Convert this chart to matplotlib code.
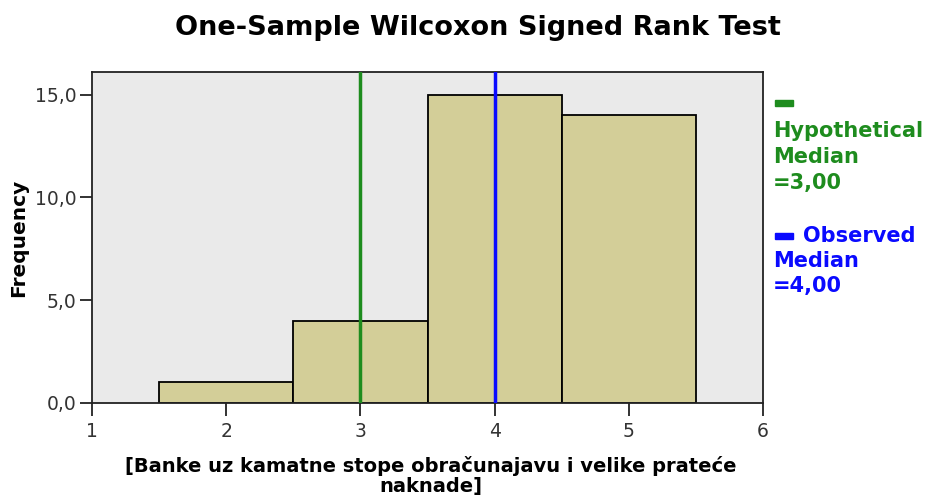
import matplotlib
matplotlib.use("Agg")
import matplotlib.pyplot as plt
from matplotlib.patches import Rectangle

bin_edges = [1.5, 2.5, 3.5, 4.5, 5.5]
frequencies = [1, 4, 15, 14]
hypothetical_median = 3.0
observed_median = 4.0
x_ticks = [1, 2, 3, 4, 5, 6]
y_ticks = [0, 5, 10, 15]
y_tick_labels = ["0,0", "5,0", "10,0", "15,0"]

GREEN = "#1E8C1E"
BLUE = "#0A0AFF"
W, H = 932, 496

plt.rcParams['font.family'] = ['DejaVu Sans']

fig = plt.figure(figsize=(W / 100, H / 100), dpi=100)
ax = fig.add_axes([92 / W, 1 - 403 / H, (763 - 92) / W, (403 - 72) / H])
ax.set_facecolor("#EAEAEA")

lefts = bin_edges[:-1]
widths = [bin_edges[i + 1] - bin_edges[i] for i in range(len(lefts))]
ax.bar(lefts, frequencies, width=widths, align="edge", color="#D3CE98",
       edgecolor="black", linewidth=1.3, zorder=2)

ax.axvline(hypothetical_median, color=GREEN, linewidth=2.5, zorder=3)
ax.axvline(observed_median, color=BLUE, linewidth=2.5, zorder=3)

ax.set_xlim(1, 6)
ax.set_ylim(0, 16.1)
ax.set_xticks(x_ticks)
ax.set_xticklabels([str(t) for t in x_ticks])
ax.set_yticks(y_ticks)
ax.set_yticklabels(y_tick_labels)
ax.tick_params(axis="both", direction="out", length=9, width=1.3,
               labelsize=13.5, colors="#222222", labelcolor="#333333")
ax.tick_params(axis="x", pad=5)
ax.tick_params(axis="y", pad=2)
for s in ax.spines.values():
    s.set_linewidth(1.3)
    s.set_color("#222222")

ax.set_ylabel("Frequency", fontsize=14.5, fontweight="bold")
ax.yaxis.set_label_coords(-64 / 671, 0.5)

fig.text(431 / W, 1 - 476 / H,
         "[Banke uz kamatne stope obračunajavu i velike prateće\nnaknade]",
         ha="center", va="center", fontsize=14, fontweight="bold", linespacing=1.1)

fig.text(478 / W, 1 - 28 / H, "One-Sample Wilcoxon Signed Rank Test", ha="center",
         va="center", fontsize=19.5, fontweight="bold")

# legend-like annotation on the right
leg_kw = dict(fontsize=15, fontweight="bold", ha="left", va="center")
fig.patches.append(Rectangle((775 / W, 1 - 106 / H), 18 / W, 6 / H,
                             transform=fig.transFigure, color=GREEN))
for txt, y in zip(["Hypothetical", "Median", "=3,00"], [131, 157, 183]):
    fig.text(773 / W, 1 - y / H, txt, color=GREEN, **leg_kw)
fig.patches.append(Rectangle((775 / W, 1 - 239 / H), 18 / W, 6 / H,
                             transform=fig.transFigure, color=BLUE))
for txt, x, y in zip(["Observed", "Median", "=4,00"], [803, 773, 773], [236, 261, 286]):
    fig.text(x / W, 1 - y / H, txt, color=BLUE, **leg_kw)

fig.savefig("out.png", dpi=100)
